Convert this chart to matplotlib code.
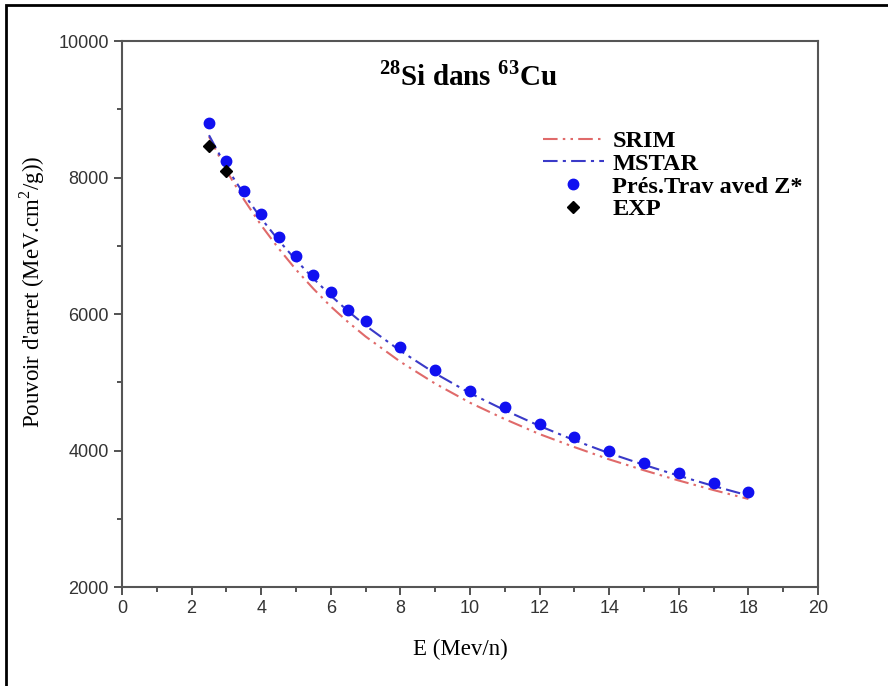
import matplotlib.pyplot as plt
from matplotlib.patches import Rectangle

# energies (MeV/n)
E_pts = [2.5, 3, 3.5, 4, 4.5, 5, 5.5, 6, 6.5, 7, 8, 9, 10, 11, 12, 13, 14, 15, 16, 17, 18]
pres_trav = [8800, 8240, 7800, 7465, 7130, 6850, 6570, 6320, 6060, 5900, 5515,
             5180, 4870, 4635, 4390, 4200, 3995, 3815, 3670, 3525, 3390]
mstar = [8620, 8150, 7760, 7400, 7080, 6790, 6520, 6270, 6040, 5830, 5460,
         5130, 4840, 4590, 4360, 4150, 3960, 3790, 3630, 3480, 3340]
srim = [8600, 8100, 7680, 7300, 6960, 6650, 6370, 6110, 5880, 5670, 5300,
        4980, 4700, 4460, 4240, 4050, 3870, 3710, 3560, 3420, 3290]
E_exp = [2.5, 3]
exp = [8460, 8090]

plt.rcParams['mathtext.fontset'] = 'custom'
plt.rcParams['mathtext.rm'] = 'Liberation Serif'
plt.rcParams['mathtext.bf'] = 'Liberation Serif:bold'

fig = plt.figure(figsize=(8.88, 6.86), dpi=100)
ax = fig.add_axes([0.1374, 0.1443, 0.7838, 0.7959])

ax.plot(E_pts, srim, color='#e06a6a', lw=1.5, ls=(0, (7, 2.5, 1.2, 2.5, 1.2, 2.5)), label='SRIM')
ax.plot(E_pts, mstar, color='#3a3ac8', lw=1.5, ls=(0, (7, 2.5, 1.5, 2.5)), label='MSTAR')
ax.plot(E_pts, pres_trav, 'o', color='#1010f0', ms=7.5, label='Prés.Trav aved Z*')
ax.plot(E_exp, exp, 'D', color='black', ms=6.5, label='EXP')

ax.set_xlim(0, 20)
ax.set_ylim(2000, 10000)
ax.set_xticks(range(0, 21, 2))
ax.set_xticks(range(1, 20, 2), minor=True)
ax.set_yticks(range(2000, 10001, 2000))
ax.set_yticks(range(3000, 10000, 2000), minor=True)
ax.tick_params(which='both', direction='out', colors='#444444',
               labelcolor='#333333', labelsize=13, width=1.3)
ax.tick_params(which='major', length=6)
ax.tick_params(which='minor', length=3.5)
for lab in ax.get_xticklabels() + ax.get_yticklabels():
    lab.set_family('Liberation Sans')
for sp in ax.spines.values():
    sp.set_color('#555555')
    sp.set_linewidth(1.5)

ax.set_xlabel('E (Mev/n)', family='Liberation Serif', fontsize=16.5)
ax.set_ylabel(r"Pouvoir d'arret (MeV.cm$^{2}$/g))", family='Liberation Serif',
              fontsize=16.5)
ax.xaxis.set_label_coords(0.486, -0.095)
ax.yaxis.set_label_coords(-0.108, 0.54)

ax.text(0.497, 0.935, r"$^{\mathbf{28}}$Si dans $^{\mathbf{63}}$Cu", transform=ax.transAxes,
        ha='center', va='center', family='Liberation Serif', fontweight='bold', fontsize=21)

leg = ax.legend(loc='upper left', bbox_to_anchor=(0.605, 0.837), frameon=False,
                borderaxespad=0, borderpad=0,
                prop={'family': 'Liberation Serif', 'weight': 'bold', 'size': 17.5},
                handlelength=2.5, handletextpad=0.35, labelspacing=0.03)

# outer frame of the image
fig.patches.append(Rectangle((6 / 888, -0.1), 1.2, 1 - 5 / 686 + 0.1, transform=fig.transFigure,
                             fill=False, edgecolor='black', lw=2))

fig.savefig('out.png', dpi=100)
